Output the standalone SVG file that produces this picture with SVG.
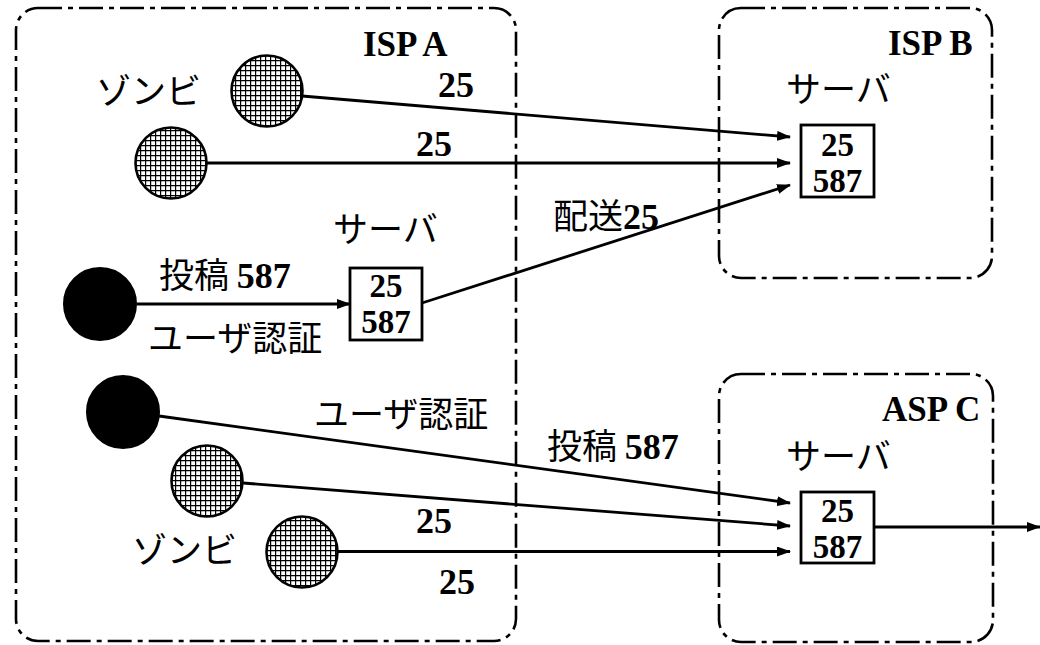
<svg xmlns="http://www.w3.org/2000/svg" width="1040" height="645" viewBox="0 0 1040 645">
<style>
.grp{fill:none;stroke:#000;stroke-width:2.6;stroke-dasharray:24 6 5 6}
.jp{font-family:"Noto Sans CJK JP","Noto Sans",sans-serif;font-size:35px;fill:#000}
.num{font-family:"Liberation Serif","Times New Roman",serif;font-weight:bold;font-size:36px;fill:#000}
.sn{font-family:"Liberation Serif","Times New Roman",serif;font-weight:bold;font-size:33px;fill:#000;text-anchor:middle}
.lbl{font-family:"Liberation Serif","Times New Roman",serif;font-weight:bold;font-size:35px;fill:#000}
.z{fill:url(#hatch);stroke:#000;stroke-width:2.6}
.u{fill:#000;stroke:#000;stroke-width:2}
.srv{fill:#fff;stroke:#000;stroke-width:2.8}
.c{stroke:#000;stroke-width:2.8;fill:none;marker-end:url(#ah)}
</style>
<defs>
<pattern id="hatch" width="5" height="5" patternUnits="userSpaceOnUse">
<rect width="5" height="5" fill="#fff"/>
<path d="M0 0.6H5M0.6 0V5" stroke="#000" stroke-width="1.2"/>
</pattern>
<marker id="ah" markerWidth="14" markerHeight="10" refX="13" refY="5" orient="auto" markerUnits="userSpaceOnUse">
<path d="M0 0L14 5L0 10Z" fill="#000"/>
</marker>
</defs>
<rect width="1040" height="645" fill="#fff"/>

<g id="ispA">
<rect class="grp" x="16" y="8" width="500" height="633" rx="22"/>
<text class="lbl" x="363" y="56">ISP A</text>
</g>
<g id="ispB">
<rect class="grp" x="719" y="8" width="273" height="270" rx="22"/>
<text class="lbl" x="888" y="55">ISP B</text>
</g>
<g id="aspC">
<rect class="grp" x="719" y="374" width="274" height="268" rx="22"/>
<text class="lbl" x="882" y="421">ASP C</text>
</g>

<g id="connectors">
<line class="c" x1="302" y1="96" x2="790" y2="137"/>
<line class="c" x1="207" y1="163" x2="790" y2="163"/>
<line class="c" x1="422" y1="303" x2="790" y2="185"/>
<line class="c" x1="137" y1="304" x2="350" y2="304"/>
<line class="c" x1="159" y1="416" x2="790" y2="503"/>
<line class="c" x1="243" y1="483" x2="790" y2="526"/>
<line class="c" x1="338" y1="551.5" x2="790" y2="551.5"/>
<line class="c" x1="874" y1="527" x2="1040" y2="527"/>
<text class="num" x="438" y="97">25</text>
<text class="num" x="416" y="156">25</text>
<text x="553" y="229"><tspan class="jp">配送</tspan><tspan class="num">25</tspan></text>
<text x="159" y="288"><tspan class="jp">投稿 </tspan><tspan class="num">587</tspan></text>
<text class="jp" x="148" y="351">ユーザ認証</text>
<text class="jp" x="314" y="427">ユーザ認証</text>
<text x="547" y="459"><tspan class="jp">投稿 </tspan><tspan class="num">587</tspan></text>
<text class="num" x="416" y="533">25</text>
<text class="num" x="439" y="594">25</text>
</g>

<g id="zombie1">
<circle class="z" cx="267" cy="91" r="35.5"/>
<text class="jp" x="96" y="104">ゾンビ</text>
</g>
<g id="zombie2">
<circle class="z" cx="171" cy="163" r="35.5"/>
</g>
<g id="user1">
<circle class="u" cx="100" cy="304" r="36"/>
</g>
<g id="user2">
<circle class="u" cx="123" cy="412" r="36"/>
</g>
<g id="zombie3">
<circle class="z" cx="207" cy="481" r="35.5"/>
<text class="jp" x="132" y="563">ゾンビ</text>
</g>
<g id="zombie4">
<circle class="z" cx="302" cy="552" r="35.5"/>
</g>

<g id="serverA">
<text class="jp" x="333" y="242">サーバ</text>
<rect class="srv" x="350" y="268" width="72" height="72"/>
<text class="sn" x="386" y="297">25</text>
<text class="sn" x="386" y="333">587</text>
</g>
<g id="serverB">
<text class="jp" x="786" y="102">サーバ</text>
<rect class="srv" x="801" y="125" width="73" height="72"/>
<text class="sn" x="837.5" y="156">25</text>
<text class="sn" x="837.5" y="192">587</text>
</g>
<g id="serverC">
<text class="jp" x="786" y="469">サーバ</text>
<rect class="srv" x="801" y="492" width="73" height="71"/>
<text class="sn" x="837.5" y="522">25</text>
<text class="sn" x="837.5" y="558">587</text>
</g>
</svg>
